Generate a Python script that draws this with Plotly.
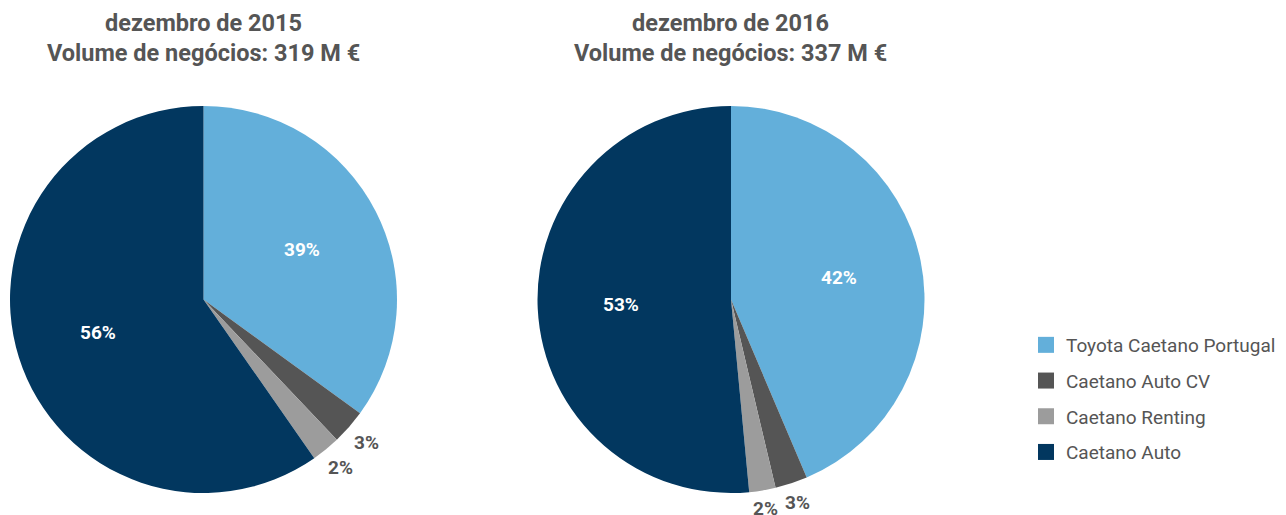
import math
import plotly.graph_objects as go

# ---- data ----
categories = ["Toyota Caetano Portugal", "Caetano Auto CV", "Caetano Renting", "Caetano Auto"]
colors = ["#63AFDA", "#555555", "#9C9C9C", "#02375F"]
# slice sizes as drawn in the picture (percent of circle)
values_2015 = [35.0, 2.9, 2.4, 59.7]
values_2016 = [43.6, 2.7, 2.2, 51.5]
# printed labels
labels_2015 = ["39%", "3%", "2%", "56%"]
labels_2016 = ["42%", "3%", "2%", "53%"]
title_line1 = ["dezembro de 2015", "dezembro de 2016"]
title_line2 = ["Volume de negócios: 319 M €", "Volume de negócios: 337 M €"]

W, H = 1286, 515
# screen -> paper mapping (page offset / plot size)
OX, OY, W_EFF, H_EFF = 8, 8, 1286, 515
FONT = "Roboto"
GRAY = "#555555"


def px_x(sx):
    return (sx - OX) / W_EFF


def px_y(sy):
    return 1 - (sy - OY) / H_EFF


fig = go.Figure()

R = 193.5
pie_centers = [(203.5, 299.5), (731, 299.5)]
annotations = []
for (cx, cy), vals, txt in zip(pie_centers, [values_2015, values_2016], [labels_2015, labels_2016]):
    fig.add_trace(go.Pie(
        labels=categories,
        values=vals,
        text=txt,
        textinfo="none",
        marker=dict(colors=colors, line=dict(width=0)),
        sort=False,
        direction="clockwise",
        rotation=0,
        showlegend=False,
        hoverinfo="label+text",
        domain=dict(x=[px_x(cx - R), px_x(cx + R)], y=[px_y(cy + R), px_y(cy - R)]),
    ))
    total = sum(vals)
    cum = 0.0
    for v, t in zip(vals, txt):
        mid = (cum + v / 2) / total * 2 * math.pi
        cum += v
        dx, dy = math.sin(mid), -math.cos(mid)
        if v / total > 0.1:
            dist = 0.57 * R
            col = "white"
        else:
            dist = R + 7 + 14 * abs(dx) + 9 * abs(dy)
            col = GRAY
        annotations.append(dict(
            x=px_x(cx + dist * dx), y=px_y(cy + dist * dy), xref="paper", yref="paper",
            text=t, showarrow=False, xanchor="center", yanchor="middle",
            font=dict(family=FONT, size=19, color=col, weight="bold")))

# legend entries (one group each so the spacing can match)
for i, (cat, col) in enumerate(zip(categories, colors)):
    fig.add_trace(go.Scatter(
        x=[None], y=[None], mode="markers", name=cat,
        marker=dict(symbol="square", size=20, color=col),
        legendgroup=f"g{i}", showlegend=True,
    ))

for cx, l1, l2 in zip([203.5, 731], title_line1, title_line2):
    annotations.append(dict(x=px_x(cx), y=px_y(23), xref="paper", yref="paper",
                            text=l1, showarrow=False, xanchor="center", yanchor="middle",
                            font=dict(family=FONT, size=23.5, color=GRAY, weight="bold")))
    annotations.append(dict(x=px_x(cx), y=px_y(53), xref="paper", yref="paper",
                            text=l2, showarrow=False, xanchor="center", yanchor="middle",
                            font=dict(family=FONT, size=23.5, color=GRAY, weight="bold")))

fig.update_layout(
    width=W, height=H,
    margin=dict(l=0, r=0, t=0, b=0),
    paper_bgcolor="white", plot_bgcolor="white",
    xaxis=dict(visible=False), yaxis=dict(visible=False),
    annotations=annotations,
    legend=dict(x=px_x(1026), y=px_y(326), xanchor="left", yanchor="top",
                font=dict(family=FONT, size=19, color=GRAY),
                itemsizing="trace", tracegroupgap=8, traceorder="grouped",
                bgcolor="rgba(0,0,0,0)"),
)

fig.write_html("out.html")
